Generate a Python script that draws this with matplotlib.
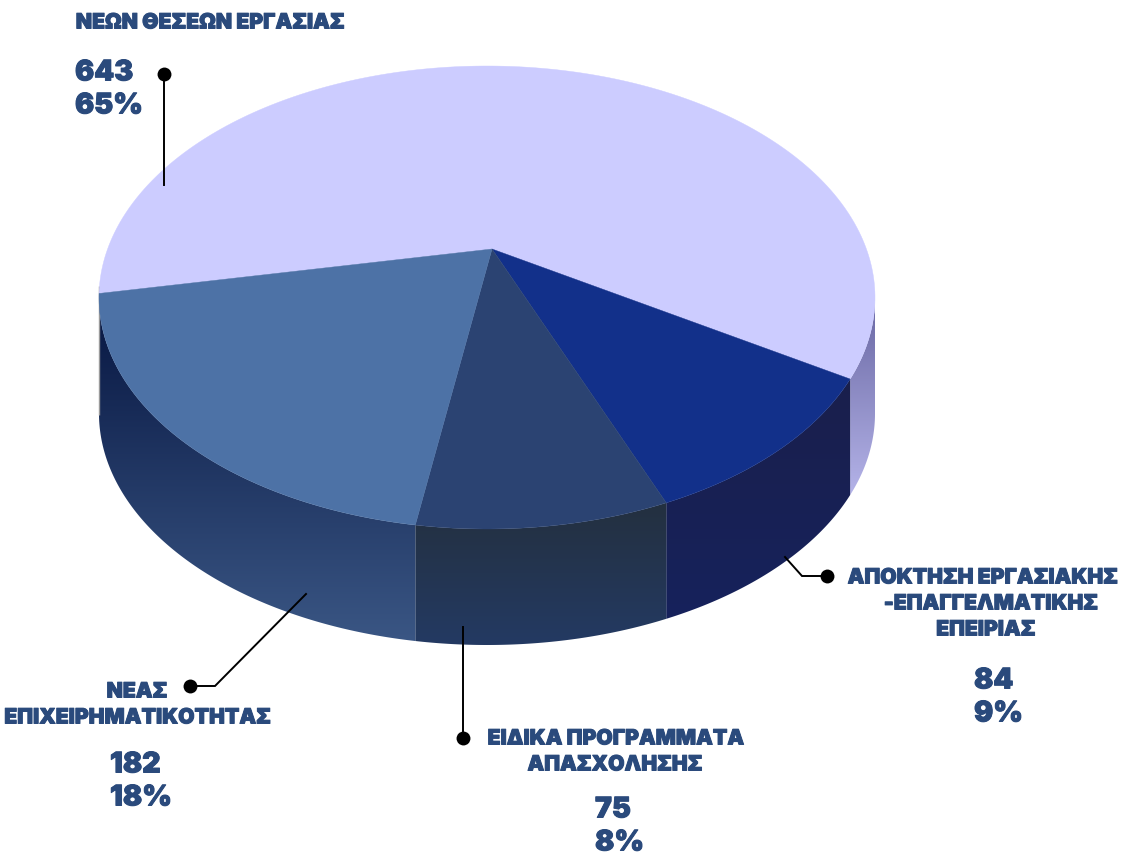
import numpy as np
import matplotlib
matplotlib.use("Agg")
import matplotlib.pyplot as plt
import matplotlib.patheffects as pe
from matplotlib.colors import LinearSegmentedColormap
from matplotlib.patches import Polygon

# ---- data ----
counts = [643, 84, 75, 182]
percents = [65, 9, 8, 18]
# share of the ellipse perimeter angle each slice occupies as drawn in the picture
drawn_share = [55.45, 11.63, 10.6, 22.32]
names = [
    ["ΝΕΩΝ ΘΕΣΕΩΝ ΕΡΓΑΣΙΑΣ"],
    ["ΑΠΟΚΤΗΣΗ ΕΡΓΑΣΙΑΚΗΣ", "-ΕΠΑΓΓΕΛΜΑΤΙΚΗΣ", "ΕΠΕΙΡΙΑΣ"],
    ["ΕΙΔΙΚΑ ΠΡΟΓΡΑΜΜΑΤΑ", "ΑΠΑΣΧΟΛΗΣΗΣ"],
    ["ΝΕΑΣ", "ΕΠΙΧΕΙΡΗΜΑΤΙΚΟΤΗΤΑΣ"],
]
top_colors = ["#ccccff", "#12308a", "#2b4372", "#4d72a6"]
side_colors = [("#65639f", "#b6b5ea"), ("#1a1f4c", "#16225c"),
               ("#24303f", "#233a63"), ("#061540", "#3a5684")]

# ---- layout ----
W, H = 1122, 853
cx, cy, rx, ry = 487.0, 298.5, 388.0, 231.5
apex = (492, 250)
depth = 116.0
start_deg = 181.0
ink = "#2a4a7c"
FONT = ["Inter", "DejaVu Sans"]

fig = plt.figure(figsize=(W / 100, H / 100), dpi=100)
ax = fig.add_axes([0, 0, 1, 1])
ax.set_xlim(0, W)
ax.set_ylim(H, 0)
ax.axis("off")


def arc(t0, t1, dy=0.0, n=200):
    t = np.radians(np.linspace(t0, t1, n))
    return np.column_stack([cx + rx * np.cos(t), cy + dy + ry * np.sin(t)])


edges = start_deg + np.concatenate([[0], np.cumsum(drawn_share)]) * 3.6

# sides (only the part facing the viewer)
for i, (a, b) in enumerate(zip(edges[:-1], edges[1:])):
    t0 = max(a % 360 if a >= 360 else a - 360, -360)
    t1 = b - 360
    lo, hi = max(t0, 0.0), min(t1, 181.0)
    if hi <= lo:
        continue
    top = arc(lo, hi)
    bottom = arc(lo, hi, depth)[::-1]
    poly = Polygon(np.vstack([top, bottom]), closed=True, facecolor="none", edgecolor="none")
    ax.add_patch(poly)
    cmap = LinearSegmentedColormap.from_list("s", side_colors[i])
    ymin, ymax = (290, 500) if i == 0 else (top[:, 1].min(), bottom[:, 1].max())
    img = ax.imshow(np.linspace(0, 1, 256)[:, None], cmap=cmap, aspect="auto",
                    extent=[0, W, ymax, ymin], zorder=2, interpolation="bilinear")
    img.set_clip_path(poly)
ax.set_xlim(0, W)
ax.set_ylim(H, 0)

# faint left seam
ax.plot([99.0, 99.0], [287, 416], color="#9a9a9a", lw=1, zorder=2.5, solid_capstyle="butt")

# top faces
for i, (a, b) in enumerate(zip(edges[:-1], edges[1:])):
    ax.add_patch(Polygon(np.vstack([[apex], arc(a, b)]), closed=True,
                         facecolor=top_colors[i], edgecolor=top_colors[i], lw=0.3, zorder=3))

# leaders
leaders = [
    [(164.5, 75), (164.5, 186)],
    [(827, 577), (802, 577), (785, 558)],
    [(463, 739), (463, 628)],
    [(190, 687), (215, 687), (306, 595)],
]
for pts in leaders:
    xy = np.array(pts)
    ax.plot(xy[:, 0], xy[:, 1], color="black", lw=1.4, zorder=5, solid_joinstyle="miter")
    ax.plot(xy[0, 0], xy[0, 1], "o", color="black", ms=10, mew=0, zorder=6)

# labels
label_pos = [
    [(210.5, 23.5)],
    [(983, 578.5), (991, 604.5), (986, 630.5)],
    [(616, 739.5), (615, 765.5)],
    [(137, 692.5), (138, 718.5)],
]
number_pos = [((75, 74), (75, 107)), ((974, 682), (974, 715)),
              ((595, 811), (595, 844)), ((110, 766), (110, 799))]
bold = [pe.withStroke(linewidth=0.7, foreground=ink)]
for i in range(4):
    for line, (x, y) in zip(names[i], label_pos[i]):
        ax.text(x, y, line, ha="center", va="center", color=ink, fontsize=15.2,
                fontweight="black", family=FONT, zorder=7, path_effects=bold)
    (x0, y0), (x1, y1) = number_pos[i]
    ax.text(x0, y0, f"{counts[i]}", ha="left", va="center", color=ink, fontsize=20.5,
            fontweight="black", family=FONT, zorder=7, path_effects=bold)
    ax.text(x1, y1, f"{percents[i]}%", ha="left", va="center", color=ink, fontsize=20.5,
            fontweight="black", family=FONT, zorder=7, path_effects=bold)

fig.savefig("out.png", dpi=100, facecolor="white")
